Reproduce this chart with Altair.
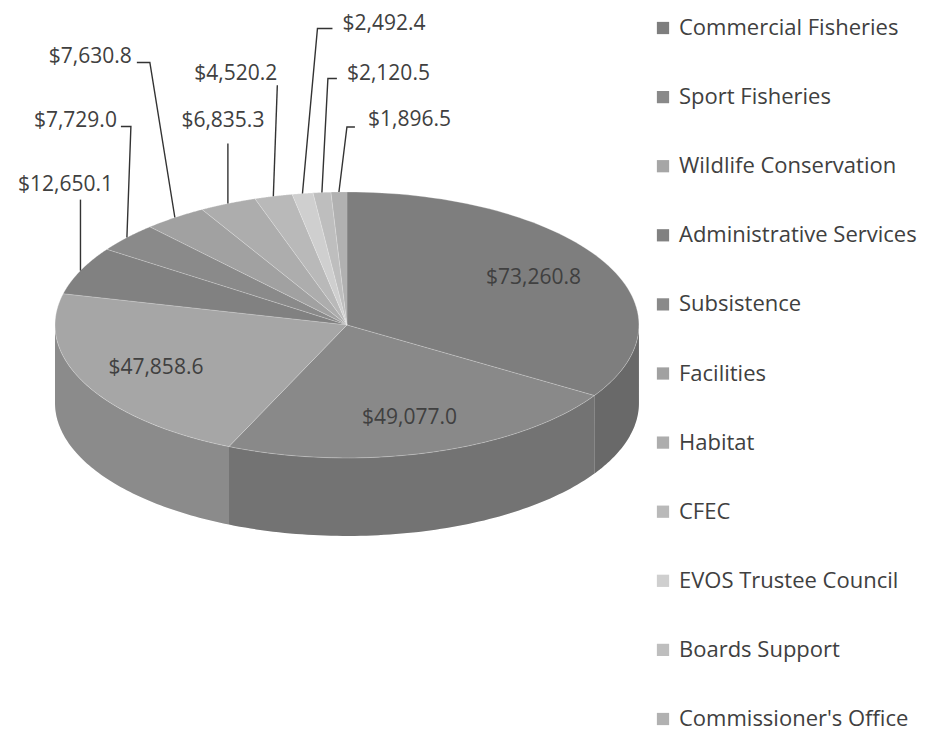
import altair as alt
import pandas as pd

# ---------------- data ----------------
categories = [
    "Commercial Fisheries", "Sport Fisheries", "Wildlife Conservation",
    "Administrative Services", "Subsistence", "Facilities", "Habitat",
    "CFEC", "EVOS Trustee Council", "Boards Support", "Commissioner's Office",
]
values = [73260.8, 49077.0, 47858.6, 12650.1, 7729.0, 7630.8, 6835.3,
          4520.2, 2492.4, 2120.5, 1896.5]
colors = ["#7e7e7e", "#898989", "#a6a6a6", "#818181", "#8a8a8a", "#a1a1a1",
          "#adadad", "#b9b9b9", "#cfcfcf", "#bebebe", "#b1b1b1"]

# ---------------- label layout (pixel offsets from each slice's rim point) ----------------
out_cats = ["Administrative Services", "Subsistence", "Facilities", "Habitat",
            "CFEC", "EVOS Trustee Council", "Boards Support", "Commissioner's Office"]
text_dx = [-15, -10, -43, -5, 4, 40, 25, 29]
text_dy = [-86, -117, -161, -83, -122, -169, -118, -72]
text_align = ["center", "right", "right", "center", "right", "left", "left", "left"]
knee_dx = [0, 4, -25, 0, 4, 15, 6, 8]
knee_dy = [-71, -111, -155, -60, -111, -165, -114, -65]
tail_dx = [0, -6, -38, 0, 4, 30, 15, 16]
tail_dy = [-71, -111, -155, -60, -111, -165, -114, -65]

df = pd.DataFrame({"category": categories, "value": values, "idx": list(range(len(values)))})
layout = pd.DataFrame({"category": out_cats, "tdx": text_dx, "tdy": text_dy, "talign": text_align,
                       "kdx": knee_dx, "kdy": knee_dy, "edx": tail_dx, "edy": tail_dy})

# ---------------- geometry ----------------
X_DOMAIN = [-1.161, 1.031]
W = 640
PX_X = W / (X_DOMAIN[1] - X_DOMAIN[0])
PX_Y = 133.0
Y_TOP = 2.383
H = 722
Y_DOMAIN = [Y_TOP - H / PX_Y, Y_TOP]
DEPTH = 78 / PX_Y
N = 72
FONT = "Open Sans"
TXT = "#404040"

xs = alt.Scale(domain=X_DOMAIN, nice=False, zero=False)
ys = alt.Scale(domain=Y_DOMAIN, nice=False, zero=False)

color = alt.Color(
    "category:N",
    scale=alt.Scale(domain=categories, range=colors),
    legend=alt.Legend(
        title=None, orient="none", legendX=644, legendY=9,
        symbolType="square", symbolSize=150, symbolStrokeWidth=0,
        labelFontSize=22, labelFont=FONT, labelColor=TXT, labelLimit=0,
        rowPadding=47.1, labelOffset=5, padding=0,
    ),
)

base = (
    alt.Chart(df)
    .transform_joinaggregate(total="sum(value)")
    .transform_window(cum="sum(value)", sort=[alt.SortField("idx", order="ascending")], frame=[None, 0])
    .transform_calculate(
        a0="2*PI*(datum.cum - datum.value)/datum.total",
        a1="2*PI*datum.cum/datum.total",
    )
    .transform_calculate(mid="(datum.a0 + datum.a1)/2", frac="datum.value/datum.total")
)

# side wall (front half of the cylinder)
side_data = (
    base.transform_calculate(b0="max(datum.a0, PI/2)", b1="min(datum.a1, 3*PI/2)")
    .transform_filter("datum.b1 > datum.b0")
    .transform_calculate(k=f"sequence(0, {2 * N})")
    .transform_flatten(["k"])
    .transform_calculate(
        ang=f"datum.k < {N} ? datum.b0 + (datum.b1 - datum.b0)*datum.k/{N - 1} : datum.b1 - (datum.b1 - datum.b0)*(datum.k - {N})/{N - 1}"
    )
    .transform_calculate(
        px="sin(datum.ang)",
        py=f"cos(datum.ang) - (datum.k < {N} ? 0 : {DEPTH})",
    )
)
side = side_data.mark_line(filled=True, strokeWidth=0).encode(
    x=alt.X("px:Q", scale=xs, axis=None),
    y=alt.Y("py:Q", scale=ys, axis=None),
    order="k:Q", detail="category:N", color=color,
)
side_shade = side_data.mark_line(filled=True, fill="#000000", fillOpacity=0.16, strokeWidth=0).encode(
    x=alt.X("px:Q", scale=xs, axis=None),
    y=alt.Y("py:Q", scale=ys, axis=None),
    order="k:Q", detail="category:N",
)

# top face
top = (
    base.transform_calculate(k=f"sequence(0, {N + 1})")
    .transform_flatten(["k"])
    .transform_calculate(ang=f"datum.a0 + (datum.a1 - datum.a0)*max(datum.k - 1, 0)/{N - 1}")
    .transform_calculate(
        px="datum.k == 0 ? 0 : sin(datum.ang)",
        py="datum.k == 0 ? 0 : cos(datum.ang)",
    )
    .mark_line(filled=True, stroke="#ffffff", strokeWidth=0.8, strokeOpacity=0.35, strokeJoin="round")
    .encode(
        x=alt.X("px:Q", scale=xs, axis=None),
        y=alt.Y("py:Q", scale=ys, axis=None),
        order="k:Q", detail="category:N", color=color,
    )
)

# labels inside the large slices
inner = (
    base.transform_filter("datum.frac > 0.1")
    .transform_calculate(
        tx="0.73*sin(datum.mid)", ty="0.73*cos(datum.mid)",
        lab="'$' + format(datum.value, ',.1f')",
    )
    .mark_text(font=FONT, fontSize=21, color=TXT, baseline="middle", align="center")
    .encode(x=alt.X("tx:Q", scale=xs, axis=None), y=alt.Y("ty:Q", scale=ys, axis=None), text="lab:N")
)

outer_base = (
    base.transform_lookup(
        lookup="category",
        from_=alt.LookupData(layout, "category", ["tdx", "tdy", "talign", "kdx", "kdy", "edx", "edy"]),
    )
    .transform_filter("datum.tdx != null")
    .transform_calculate(ax="sin(datum.mid)", ay="cos(datum.mid)")
)

leaders = (
    outer_base.transform_calculate(p="sequence(0, 3)")
    .transform_flatten(["p"])
    .transform_calculate(
        lx=f"datum.ax + (datum.p == 0 ? 0 : datum.p == 1 ? datum.kdx : datum.edx)/{PX_X}",
        ly=f"datum.ay - (datum.p == 0 ? 0 : datum.p == 1 ? datum.kdy : datum.edy)/{PX_Y}",
    )
    .mark_line(color="#333333", strokeWidth=1.4)
    .encode(
        x=alt.X("lx:Q", scale=xs, axis=None),
        y=alt.Y("ly:Q", scale=ys, axis=None),
        order="p:Q", detail="category:N",
    )
)

outer_text_base = outer_base.transform_calculate(
    tx=f"datum.ax + datum.tdx/{PX_X}",
    ty=f"datum.ay - datum.tdy/{PX_Y}",
    lab="'$' + format(datum.value, ',.1f')",
)
outer_texts = []
for al in ["left", "center", "right"]:
    outer_texts.append(
        outer_text_base.transform_filter(f"datum.talign == '{al}'")
        .mark_text(font=FONT, fontSize=21, color=TXT, baseline="middle", align=al)
        .encode(x=alt.X("tx:Q", scale=xs, axis=None), y=alt.Y("ty:Q", scale=ys, axis=None), text="lab:N")
    )

chart = (
    alt.layer(side, side_shade, top, inner, leaders, *outer_texts)
    .properties(width=W, height=H, padding=0, background="#ffffff")
    .configure_view(stroke=None)
)

chart.save("out.html", embed_options={"renderer": "svg", "actions": False})
